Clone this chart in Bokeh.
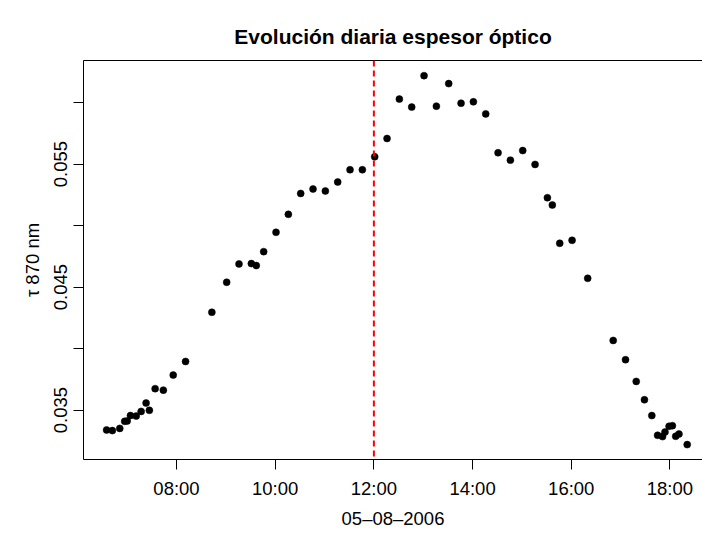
from bokeh.plotting import figure
from bokeh.models import FixedTicker, LinearAxis, Span, PrintfTickFormatter, Range1d, Title
from bokeh.embed import file_html
from bokeh.resources import INLINE

# ---- data ----
times = ["06:35", "06:42", "06:51", "06:57", "07:00", "07:04", "07:11", "07:17", "07:23", "07:27",
         "07:34", "07:44", "07:56", "08:11", "08:43", "09:01", "09:16", "09:31", "09:37", "09:46",
         "10:01", "10:16", "10:31", "10:46", "11:01", "11:16", "11:31", "11:46", "12:01", "12:16",
         "12:31", "12:46", "13:01", "13:16", "13:31", "13:46", "14:01", "14:16", "14:31", "14:46",
         "15:01", "15:16", "15:31", "15:37", "15:46", "16:01", "16:20", "16:51", "17:06", "17:19",
         "17:29", "17:38", "17:45", "17:51", "17:54", "17:59", "18:03", "18:07", "18:11", "18:21"]
tau_870 = [0.03338, 0.03333, 0.03351, 0.03408, 0.03411, 0.03455, 0.03451, 0.03489, 0.03557, 0.03498,
           0.03674, 0.03662, 0.03784, 0.03895, 0.04295, 0.04539, 0.04688, 0.04691, 0.04675, 0.04788,
           0.04945, 0.05091, 0.05261, 0.05297, 0.05281, 0.05354, 0.05454, 0.05454, 0.05559, 0.05708,
           0.06028, 0.05963, 0.06219, 0.05971, 0.06154, 0.05995, 0.06006, 0.05908, 0.05592, 0.05532,
           0.05610, 0.05497, 0.05226, 0.05167, 0.04856, 0.04880, 0.04571, 0.04066, 0.03910, 0.03733,
           0.03584, 0.03455, 0.03295, 0.03284, 0.03321, 0.03368, 0.03373, 0.03287, 0.03305, 0.03219]
x_tick_hours = [8, 10, 12, 14, 16, 18]
x_tick_labels = ["08:00", "10:00", "12:00", "14:00", "16:00", "18:00"]
y_ticks_labeled = [0.035, 0.045, 0.055]
y_ticks_unlabeled = [0.040, 0.050, 0.060]
ref_hour = 12.0
title_text = "Evolución diaria espesor óptico"
x_title = "05–08–2006"
y_title = "τ 870 nm"

hours = [int(t[:2]) + int(t[3:]) / 60.0 for t in times]

FONT = "Liberation Sans"
X0, X1 = 6.115, 18.66
Y0, Y1 = 0.03098, 0.06342

p = figure(width=702, height=534, output_backend="svg", toolbar_location=None,
           x_range=Range1d(X0, X1), y_range=Range1d(Y0, Y1),
           min_border_left=83, min_border_right=0, min_border_top=60, min_border_bottom=75,
           x_axis_location=None, y_axis_location=None)
p.outline_line_color = None
p.xgrid.visible = False
p.ygrid.visible = False
p.background_fill_color = "white"
p.border_fill_color = "white"

p.title.text = title_text
p.title.align = "center"
p.title.offset = 2
p.title.text_font = FONT
p.title.text_font_size = "21px"
p.title.text_font_style = "bold"
p.title.text_color = "black"
p.title.standoff = 25

xax = LinearAxis(ticker=FixedTicker(ticks=x_tick_hours),
                 major_label_overrides={h: lab for h, lab in zip(x_tick_hours, x_tick_labels)})
yax = LinearAxis(ticker=FixedTicker(ticks=y_ticks_labeled, minor_ticks=y_ticks_unlabeled),
                 formatter=PrintfTickFormatter(format="%.3f"))
yax.axis_label = y_title
yax.major_label_orientation = "vertical"

for ax in (xax, yax):
    ax.axis_line_color = "black"
    ax.major_tick_line_color = "black"
    ax.major_tick_out = 10
    ax.major_tick_in = 0
    ax.minor_tick_line_color = "black"
    ax.minor_tick_out = 10
    ax.minor_tick_in = 0
    ax.major_label_text_font = FONT
    ax.major_label_text_font_size = "18.5px"
    ax.major_label_text_color = "black"
    ax.axis_label_text_font = FONT
    ax.axis_label_text_font_size = "18.5px"
    ax.axis_label_text_font_style = "normal"
    ax.axis_label_text_color = "black"

xax.minor_tick_line_color = None
xax.major_label_standoff = 8
yax.major_label_standoff = 6
yax.axis_label_standoff = 9

top = LinearAxis(ticker=FixedTicker(ticks=[]), axis_line_color="black",
                 major_tick_line_color=None, minor_tick_line_color=None,
                 major_label_text_font_size="0px", major_label_standoff=0)

p.add_layout(xax, "below")
p.add_layout(yax, "left")
p.add_layout(top, "above")

# x-axis title below the tick labels (R's xlab)
p.add_layout(Title(text=x_title, align="center", offset=2, text_font=FONT,
                   text_font_size="18.5px", text_font_style="normal",
                   text_color="black", standoff=9), "below")

p.add_layout(Span(location=ref_hour, dimension="height", line_color="red",
                  line_dash="6 4", line_width=2))

p.scatter(hours, tau_870, size=7, fill_color="black", line_color="black", line_width=0.5)

open("out.html", "w").write(file_html(p, INLINE))
